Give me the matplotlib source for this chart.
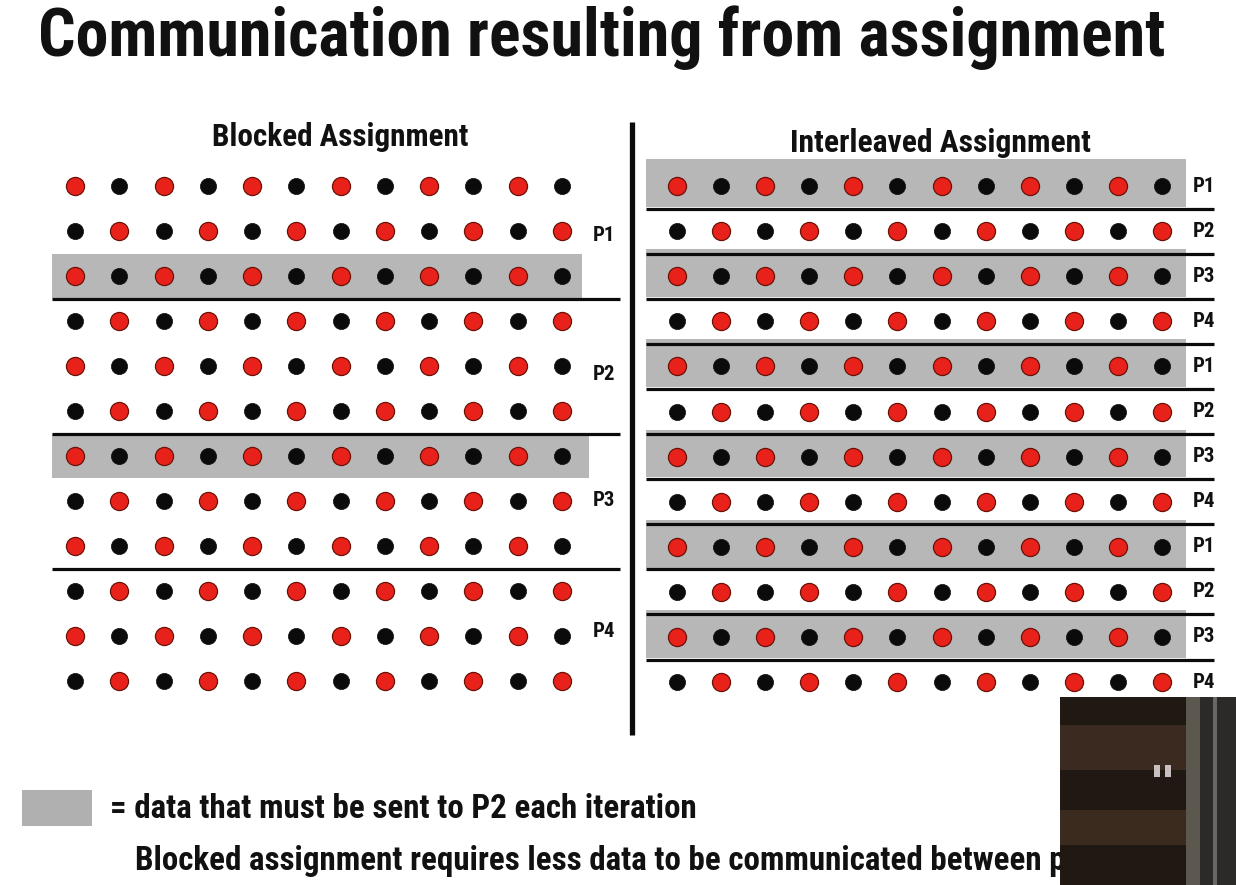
import matplotlib
matplotlib.use("Agg")
import matplotlib.pyplot as plt
from matplotlib import font_manager
from matplotlib.patches import Rectangle

# ---------------- data ----------------
title = "Communication resulting from assignment"
left_title = "Blocked Assignment"
right_title = "Interleaved Assignment"
legend_text = "= data that must be sent to P2 each iteration"
note_text = "Blocked assignment requires less data to be communicated between pr"

# dot colour pattern per row (R = red, B = black), 12 rows x 12 columns
row_patterns = [
    "RBRBRBRBRBRB", "BRBRBRBRBRBR", "RBRBRBRBRBRB", "BRBRBRBRBRBR",
    "RBRBRBRBRBRB", "BRBRBRBRBRBR", "RBRBRBRBRBRB", "BRBRBRBRBRBR",
    "RBRBRBRBRBRB", "BRBRBRBRBRBR", "RBRBRBRBRBRB", "BRBRBRBRBRBR",
]

# blocked assignment
blocked_shaded_rows = [2, 6]
blocked_block_starts = [3, 6, 9]          # a rule is drawn above each of these rows
blocked_labels = ["P1", "P2", "P3", "P4"]
blocked_label_rows = [1.1, 4.2, 7.0, 9.9]

# interleaved assignment
inter_shaded_rows = [0, 2, 4, 6, 8, 10]
inter_rule_rows = [1, 2, 3, 4, 5, 6, 7, 8, 9, 10, 11]
inter_labels = ["P1", "P2", "P3", "P4", "P1", "P2", "P3", "P4", "P1", "P2", "P3", "P4"]

# ---------------- style ----------------
W, H = 1236, 885
RED = "#e8221a"
RED_EDGE = "#6a1208"
BLACK = "#0b0b0b"
GRAY = "#b7b7b7"
TEXT = "#111111"

avail = {f.name for f in font_manager.fontManager.ttflist}
cands = ["Liberation Sans Narrow", "Roboto Condensed", "Open Sans Condensed",
         "Noto Sans Condensed", "Lato", "Roboto", "DejaVu Sans"]
FAM = [c for c in cands if c in avail] + ["DejaVu Sans"]
plt.rcParams["font.family"] = FAM

fig = plt.figure(figsize=(W / 100, H / 100), dpi=100)
fig.patch.set_facecolor("white")

# full-page layout axes in pixel units
ax0 = fig.add_axes([0, 0, 1, 1])
ax0.set_xlim(0, W)
ax0.set_ylim(H, 0)
ax0.axis("off")


def grid_axes(x0, dx, y0, dy, cmin=-1.5, cmax=13.5, rmin=-1.5, rmax=12.5):
    left = x0 + cmin * dx
    right = x0 + cmax * dx
    top = y0 + rmin * dy
    bottom = y0 + rmax * dy
    ax = fig.add_axes([left / W, 1 - bottom / H, (right - left) / W, (bottom - top) / H])
    ax.set_xlim(cmin, cmax)
    ax.set_ylim(rmax, rmin)
    ax.axis("off")
    ax.patch.set_alpha(0)
    return ax


def draw_dots(ax):
    for r, pat in enumerate(row_patterns):
        for c, ch in enumerate(pat):
            if ch == "R":
                ax.scatter(c, r, s=170, color=RED, edgecolors=RED_EDGE, linewidths=0.9, zorder=3)
            else:
                ax.scatter(c, r, s=135, color=BLACK, edgecolors=BLACK, linewidths=0.5, zorder=3)


# ---- left: blocked ----
axL = grid_axes(75, 44.27, 186, 45.0)
for r in blocked_shaded_rows:
    right_end = 11.45 if r == 2 else 11.61
    axL.add_patch(Rectangle((-0.52, r - 0.49), right_end + 0.52, 0.97,
                            facecolor=GRAY, edgecolor="none", zorder=1))
for r in blocked_block_starts:
    axL.plot([-0.52, 12.31], [r - 0.5, r - 0.5], color=BLACK, lw=2.3, zorder=2,
             solid_capstyle="butt")
draw_dots(axL)
for lab, r in zip(blocked_labels, blocked_label_rows):
    axL.text(11.7, r, lab, fontsize=15, fontweight="bold", color=TEXT,
             ha="left", va="center")

# ---- right: interleaved ----
axR = grid_axes(677, 44.09, 186, 45.1)
for r in inter_shaded_rows:
    axR.add_patch(Rectangle((-0.70, r - 0.6), 12.24, 1.06,
                            facecolor=GRAY, edgecolor="none", zorder=1))
for r in inter_rule_rows:
    axR.plot([-0.70, 12.18], [r - 0.5, r - 0.5], color=BLACK, lw=2.3, zorder=2,
             solid_capstyle="butt")
draw_dots(axR)
for r, lab in enumerate(inter_labels):
    axR.text(11.7, r, lab, fontsize=15, fontweight="bold", color=TEXT,
             ha="left", va="center")

# ---- page furniture (pixel units) ----
ax0.plot([632, 632], [122, 735], color=BLACK, lw=3.8, solid_capstyle="butt")

ax0.text(602, 56, title, fontsize=47.5, fontweight="bold", color=TEXT,
         ha="center", va="baseline")
ax0.text(340, 146, left_title, fontsize=22.4, fontweight="bold", color=TEXT,
         ha="center", va="baseline")
ax0.text(940, 152, right_title, fontsize=22.8, fontweight="bold", color=TEXT,
         ha="center", va="baseline")

ax0.add_patch(Rectangle((22, 790), 70, 36, facecolor="#b0b0b0", edgecolor="none"))
ax0.text(110, 818, legend_text, fontsize=23.8, fontweight="bold", color=TEXT,
         ha="left", va="baseline")
ax0.text(135, 870, note_text, fontsize=23.8, fontweight="bold", color=TEXT,
         ha="left", va="baseline", zorder=1)

# ---- camera inset (bottom-right) ----
ax0.add_patch(Rectangle((1060, 697), 176, 188, facecolor="#201812", edgecolor="none", zorder=5))
ax0.add_patch(Rectangle((1060, 725), 128, 45, facecolor="#3a2a20", edgecolor="none", zorder=5))
ax0.add_patch(Rectangle((1060, 810), 128, 35, facecolor="#3b2a1e", edgecolor="none", zorder=5))
ax0.add_patch(Rectangle((1186, 697), 14, 188, facecolor="#5c5850", edgecolor="none", zorder=5))
ax0.add_patch(Rectangle((1200, 697), 36, 188, facecolor="#2c2a28", edgecolor="none", zorder=5))
ax0.add_patch(Rectangle((1213, 697), 4, 188, facecolor="#6a6660", edgecolor="none", zorder=5))
ax0.add_patch(Rectangle((1154, 765), 6, 12, facecolor="#c8c0c0", edgecolor="none", zorder=6))
ax0.add_patch(Rectangle((1165, 765), 6, 12, facecolor="#c8c0c0", edgecolor="none", zorder=6))

fig.savefig("out.png", dpi=100, facecolor="white")
